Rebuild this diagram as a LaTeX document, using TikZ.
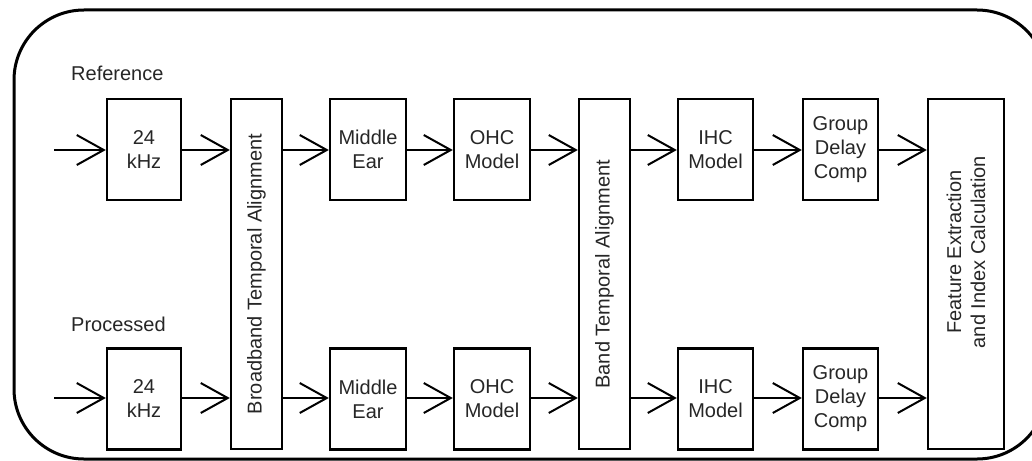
\documentclass[tikz,border=0pt]{standalone}
\usepackage{fontspec}
\setmainfont{Liberation Sans}
\usetikzlibrary{arrows.meta}
\begin{document}
\begin{tikzpicture}[x=1pt,y=-1pt,
  font=\fontsize{20}{24}\selectfont,
  blk/.style={draw, line width=2.4pt, inner sep=0pt, align=center, text=black!85},
  sblk/.style={blk, minimum width=#1, minimum height=101},
  tblk/.style={blk, minimum width=#1, minimum height=350},
  lbl/.style={inner sep=0pt, text=black!85},
  conn/.style={line width=2pt, -{Straight Barb[length=27pt 0 0, width=30pt 0 0, line width=2pt]}}
]
\useasboundingbox (0,0) rectangle (1032,460);
\begin{scope}
\clip (0,0) rectangle (1032,460);
\draw[line width=3pt, rounded corners=70pt] (14,10) rectangle (1047,459);
\end{scope}

% labels
\node[lbl, anchor=base west] (lref) at (71,81) {Reference};
\node[lbl, anchor=base west] (lproc) at (71,331) {Processed};

% input coordinates
\coordinate (in1) at (54,150);
\coordinate (in2) at (54,398);

% top row
\node[sblk=74] (k1) at (144,149.5) {24\\kHz};
\node[sblk=76] (me1) at (368,149.5) {Middle\\Ear};
\node[sblk=76] (ohc1) at (492,149.5) {OHC\\Model};
\node[sblk=75] (ihc1) at (715.5,149.5) {IHC\\Model};
\node[sblk=75] (gd1) at (840.5,149.5) {Group\\Delay\\Comp};
% bottom row
\node[sblk=74] (k2) at (144,399) {24\\kHz};
\node[sblk=76] (me2) at (368,399) {Middle\\Ear};
\node[sblk=76] (ohc2) at (492,399) {OHC\\Model};
\node[sblk=75] (ihc2) at (715.5,399) {IHC\\Model};
\node[sblk=75] (gd2) at (840.5,399) {Group\\Delay\\Comp};
% tall blocks
\node[tblk=51] (bb) at (256.5,274) {};
\node[lbl, rotate=90] (bbt) at (bb.center) {Broadband Temporal Alignment};
\node[tblk=51] (bta) at (604.5,274) {};
\node[lbl, rotate=90] (btat) at (bta.center) {Band Temporal Alignment};
\node[tblk=76] (fe) at (966,274) {};
\node[lbl, rotate=90, align=center] (fet) at (966,252) {Feature Extraction\\and Index Calculation};

% connectors top
\draw[conn] (in1) -- (k1.west |- in1);
\draw[conn] (k1.east |- in1) -- (bb.west |- in1);
\draw[conn] (bb.east |- in1) -- (me1.west |- in1);
\draw[conn] (me1.east |- in1) -- (ohc1.west |- in1);
\draw[conn] (ohc1.east |- in1) -- (bta.west |- in1);
\draw[conn] (bta.east |- in1) -- (ihc1.west |- in1);
\draw[conn] (ihc1.east |- in1) -- (gd1.west |- in1);
\draw[conn] (gd1.east |- in1) -- (fe.west |- in1);
% connectors bottom
\draw[conn] (in2) -- (k2.west |- in2);
\draw[conn] (k2.east |- in2) -- (bb.west |- in2);
\draw[conn] (bb.east |- in2) -- (me2.west |- in2);
\draw[conn] (me2.east |- in2) -- (ohc2.west |- in2);
\draw[conn] (ohc2.east |- in2) -- (bta.west |- in2);
\draw[conn] (bta.east |- in2) -- (ihc2.west |- in2);
\draw[conn] (ihc2.east |- in2) -- (gd2.west |- in2);
\draw[conn] (gd2.east |- in2) -- (fe.west |- in2);
\end{tikzpicture}
\end{document}
